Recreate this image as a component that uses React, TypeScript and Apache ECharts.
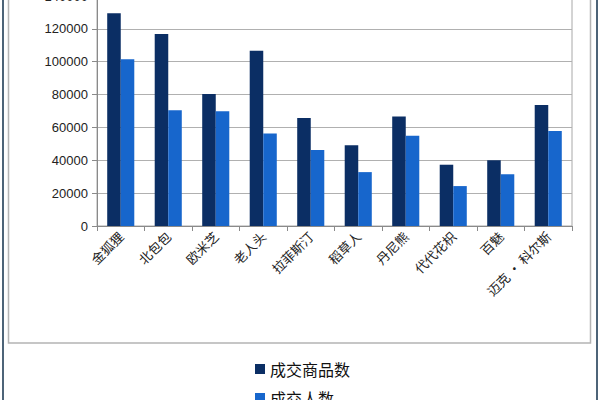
import React, { useEffect, useRef } from "react";
import * as echarts from "echarts";

const categories = ["金狐狸", "北包包", "欧米芝", "老人头", "拉菲斯汀", "稻草人", "丹尼熊", "代代花枳", "百魅", "迈克 • 科尔斯"];
const seriesNames = ["成交商品数", "成交人数"];
const goodsCount = [129500, 116800, 80300, 106600, 65800, 49200, 66600, 37300, 40000, 73700];
const buyerCount = [101500, 70500, 69800, 56300, 46200, 32800, 55000, 24300, 31500, 57800];

export default function App() {
  const ref = useRef<HTMLDivElement>(null);
  useEffect(() => {
    document.body.style.margin = "0";
    const chart = echarts.init(ref.current!, null, { renderer: "svg" });
    chart.setOption({
      animation: false,
      backgroundColor: "#ffffff",
      graphic: [
        { type: "rect", shape: { x: 8.5, y: -10, width: 582, height: 353 }, style: { fill: "none", stroke: "#b4b4b4", lineWidth: 1.5 }, z: 0 },
        { type: "line", shape: { x1: 3, y1: 0, x2: 3, y2: 400 }, style: { stroke: "#4d6478", lineWidth: 2 } },
        { type: "line", shape: { x1: 597, y1: 0, x2: 597, y2: 400 }, style: { stroke: "#4d6478", lineWidth: 2 } },
      ],
      legend: {
        orient: "vertical",
        left: 250,
        top: 356,
        height: 100,
        itemWidth: 10,
        itemHeight: 10,
        itemGap: 13,
        icon: "rect",
        textStyle: { fontSize: 16, color: "#111", fontFamily: "Noto Sans CJK SC" },
        data: seriesNames,
      },
      grid: { left: 97, right: 28, top: -4, bottom: 174, show: true, borderColor: "#a8a8a8", borderWidth: 1, outerBoundsMode: "none", containLabel: false },
      xAxis: {
        type: "category",
        data: categories,
        axisLine: { lineStyle: { color: "#8a8a8a" } },
        axisTick: { show: true, length: 5, lineStyle: { color: "#8a8a8a" } },
        axisLabel: { rotate: 45, fontSize: 13, color: "#222", margin: 8, fontFamily: "Noto Sans CJK SC", interval: 0 },
      },
      yAxis: {
        type: "value",
        min: 0,
        max: 140000,
        interval: 20000,
        axisLine: { show: true, lineStyle: { color: "#8a8a8a" } },
        axisTick: { show: true, length: 5, lineStyle: { color: "#8a8a8a" } },
        axisLabel: { fontSize: 13, color: "#222", margin: 9, fontFamily: "Liberation Sans", formatter: (v: number) => String(v) },
        splitLine: { lineStyle: { color: "#b0b0b0", width: 1.2 } },
      },
      series: [
        { name: seriesNames[0], type: "bar", data: goodsCount, barGap: "0%", barCategoryGap: "43%", itemStyle: { color: "#0b2e64" } },
        { name: seriesNames[1], type: "bar", data: buyerCount, itemStyle: { color: "#1766cc" } },
      ],
    });
    return () => chart.dispose();
  }, []);
  return <div ref={ref} style={{ width: 600, height: 400 }} />;
}
